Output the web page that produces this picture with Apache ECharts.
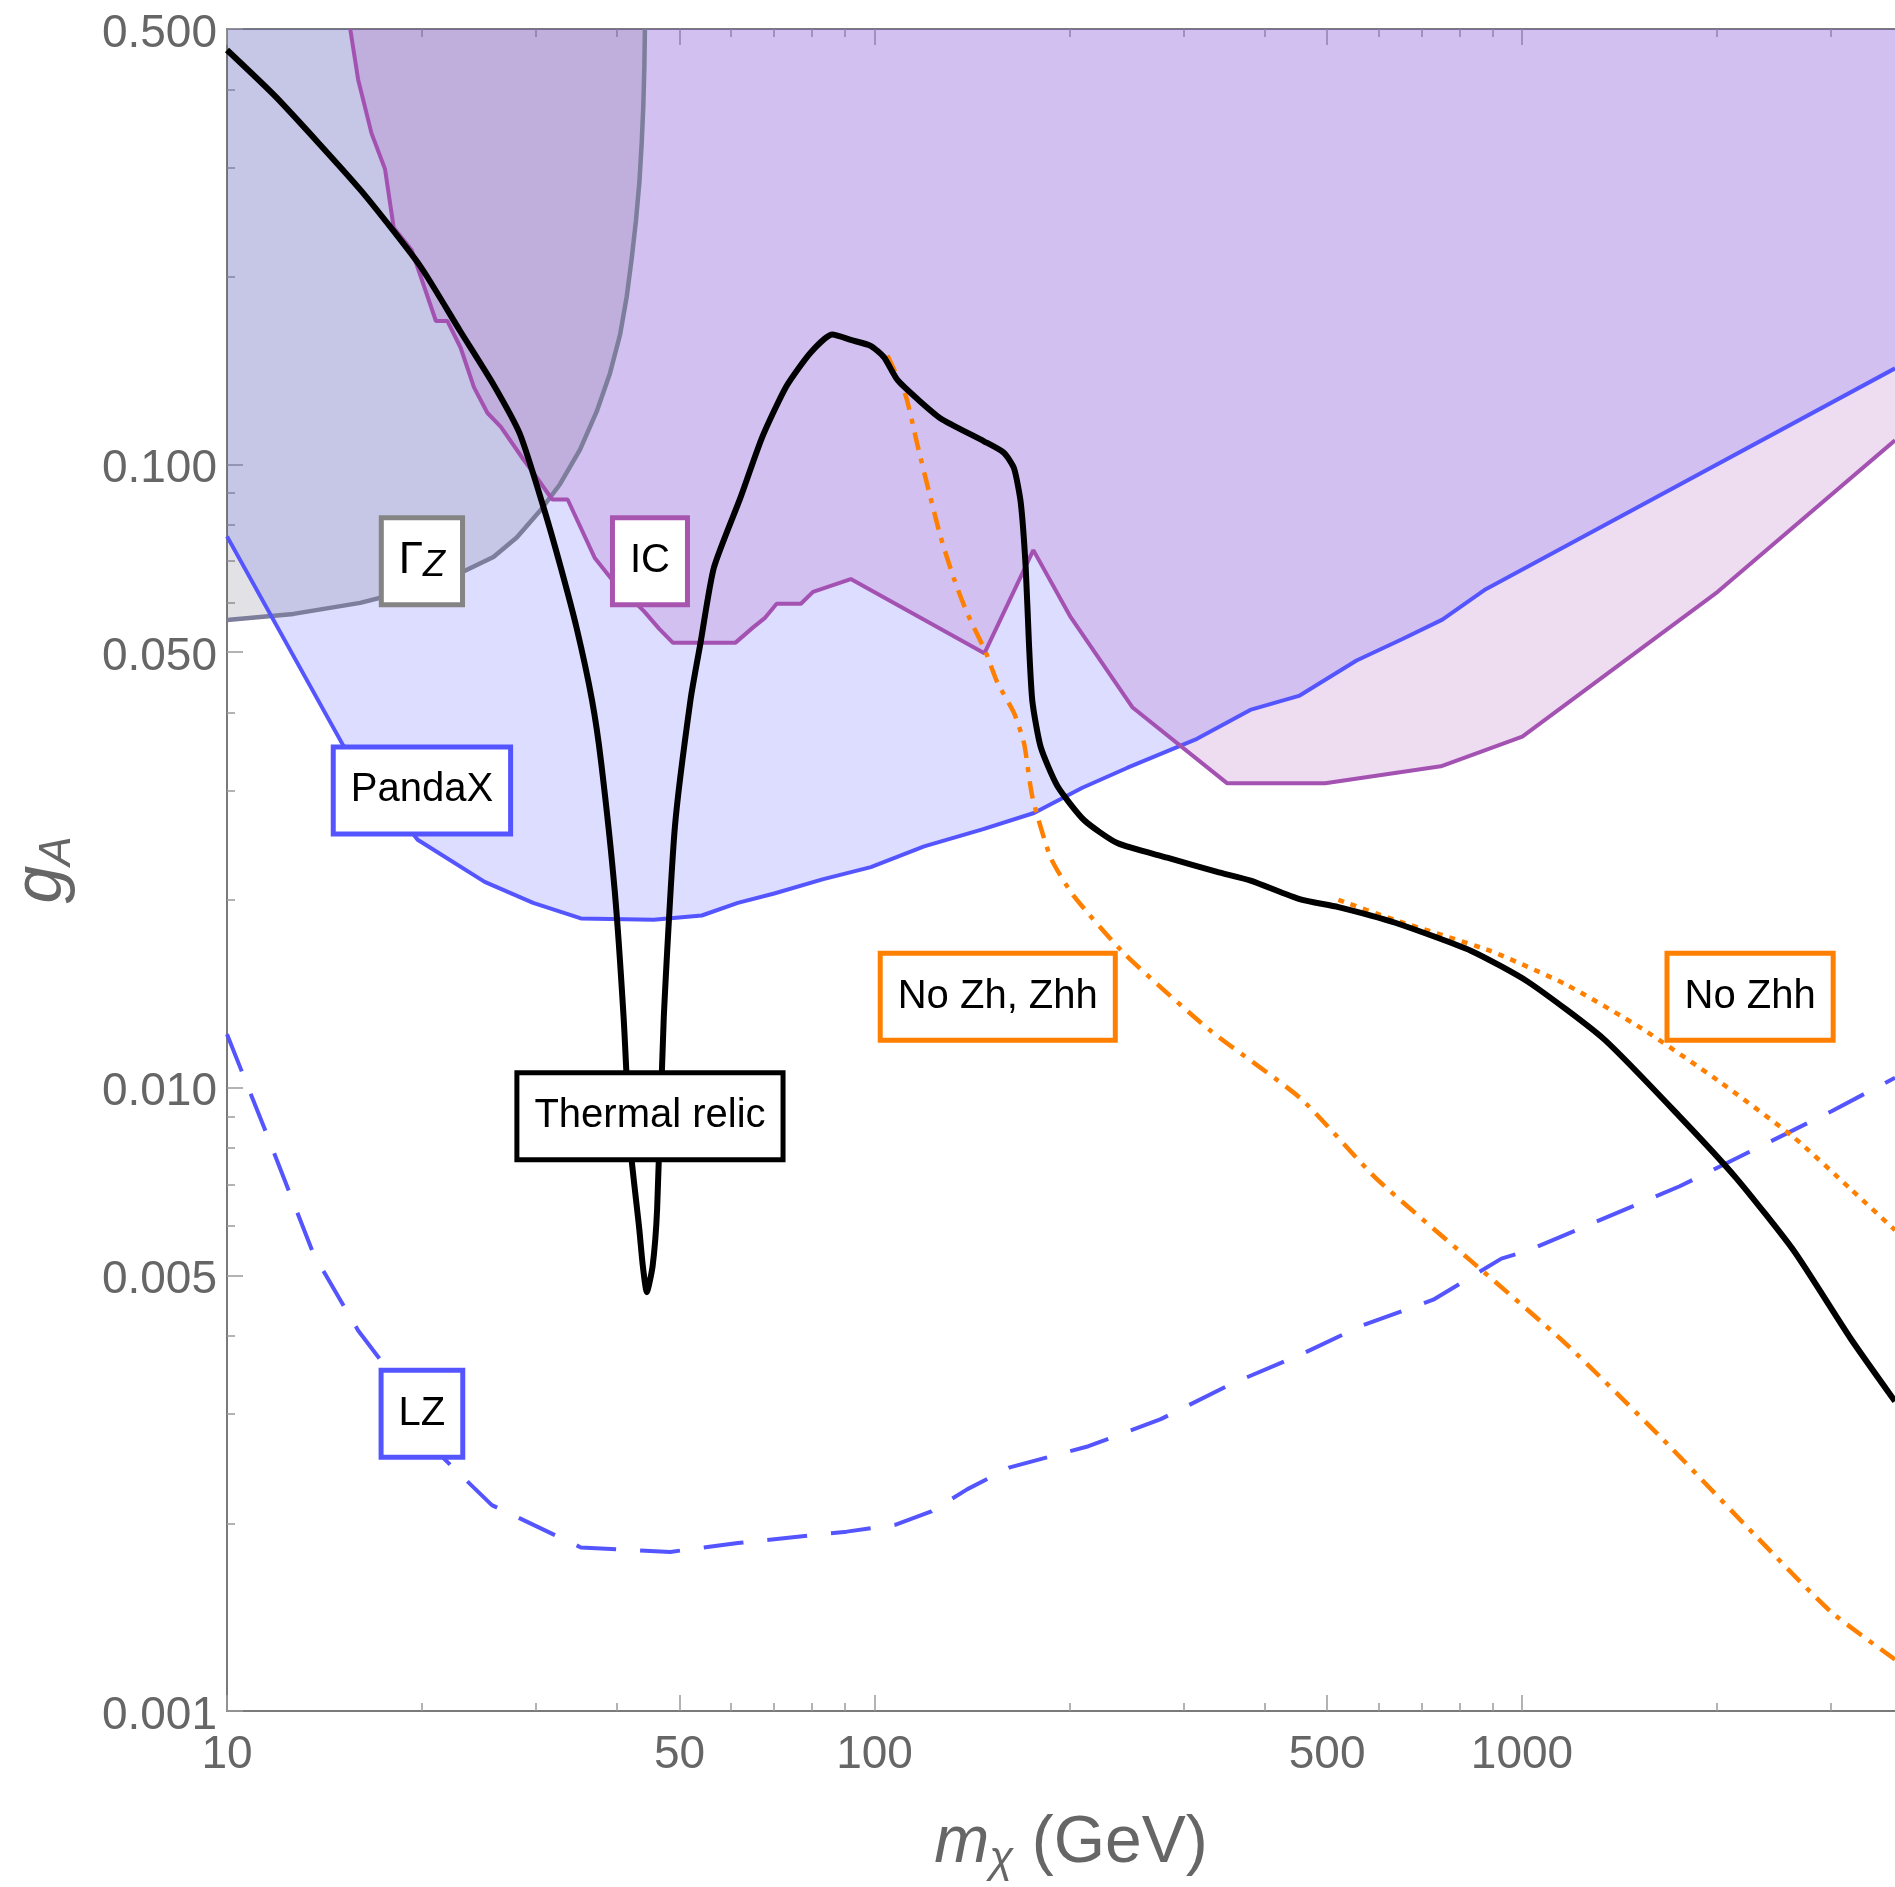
<!DOCTYPE html>
<html><head><meta charset="utf-8">
<script src="https://cdn.jsdelivr.net/npm/echarts@6/dist/echarts.min.js"></script>
<style>html,body{margin:0;padding:0;background:#fff}#c{width:1895px;height:1887px}</style>
</head><body><div id="c"></div>
<script>
// ---- axis ticks ----
const xMajorTicks = [10, 50, 100, 500, 1000];
const xMinorTicks = [20, 30, 40, 60, 70, 80, 90, 200, 300, 400, 600, 700, 800, 900, 2000, 3000];
const yMajorTicks = [0.001, 0.005, 0.01, 0.05, 0.1, 0.5];
const yMinorTicks = [0.002, 0.003, 0.004, 0.006, 0.007, 0.008, 0.009, 0.02, 0.03, 0.04, 0.06, 0.07, 0.08, 0.09, 0.2, 0.3, 0.4];
const xMin = 10, xMax = 3767, yMin = 0.001, yMax = 0.5;

// ---- Gamma_Z bound ----
const gammaZ_x = [10, 12.67, 16.06, 19.9, 23.05, 25.79, 28.02, 30.44, 32.68, 35.09, 37.24, 39.04, 40.45, 41.43, 42.17, 42.82, 43.34, 43.69, 43.95, 44.11, 44.2];
const gammaZ_y = [0.0563, 0.0576, 0.0600, 0.0635, 0.0672, 0.0711, 0.0764, 0.0843, 0.0930, 0.1057, 0.1217, 0.1402, 0.1614, 0.1860, 0.2141, 0.2467, 0.284, 0.3272, 0.3768, 0.434, 0.5];

// ---- PandaX bound ----
const pandaX_x = [10, 15.1, 19.7, 25.0, 29.7, 35.2, 45.6, 54.1, 61.5, 70.0, 83.1, 98.7, 119.3, 147.2, 176.3, 209.4, 245.4, 314.8, 380.4, 453.6, 555.2, 653.6, 753.2, 879, 3767];
const pandaX_y = [0.0767, 0.0355, 0.0250, 0.0214, 0.0198, 0.0187, 0.0186, 0.0189, 0.0198, 0.0205, 0.0216, 0.0226, 0.0244, 0.0260, 0.0276, 0.0303, 0.0326, 0.0363, 0.0404, 0.0426, 0.0485, 0.0525, 0.0564, 0.0631, 0.1427];

// ---- IceCube bound ----
const ic_x = [15.5, 15.94, 16.72, 17.54, 18.09, 19.28, 21.02, 21.89, 22.95, 24.07, 25.25, 26.48, 28.68, 30.08, 31.78, 33.58, 36.96, 39.36, 44.04, 46.51, 48.8, 61.0, 64.8, 67.66, 70.6, 76.97, 80.35, 91.9, 147.8, 175.9, 200.9, 250.1, 350.6, 496.5, 749.2, 1001, 2005, 3767];
const ic_y = [0.5, 0.415, 0.34, 0.298, 0.24, 0.221, 0.17, 0.17, 0.154, 0.133, 0.121, 0.115, 0.102, 0.0954, 0.0879, 0.0879, 0.0709, 0.0653, 0.0582, 0.0545, 0.0518, 0.0518, 0.0547, 0.0567, 0.0598, 0.0598, 0.0625, 0.0655, 0.0498, 0.0729, 0.0569, 0.0408, 0.0308, 0.0308, 0.0328, 0.0366, 0.0625, 0.1094];

// ---- LZ projection ----
const lz_x = [10, 11.6, 13.6, 15.94, 19.29, 21.55, 25.65, 35.2, 48.37, 61.5, 90.6, 107.6, 122.4, 139.2, 161.8, 214, 276.8, 358.3, 454.8, 564.6, 729.3, 929.3, 1021.6, 1752, 3006, 3767];
const lz_y = [0.01219, 0.00827, 0.00541, 0.00408, 0.00314, 0.00255, 0.00214, 0.00183, 0.0018, 0.00186, 0.00194, 0.00199, 0.00209, 0.00227, 0.00246, 0.00266, 0.00294, 0.00336, 0.00373, 0.00415, 0.00457, 0.00532, 0.00548, 0.00695, 0.00917, 0.01038];

// ---- Thermal relic ----
const relic_x = [10, 11.94, 16.06, 19.88, 22.91, 25.79, 28.35, 30.81, 32.68, 34.68, 36.6, 37.84, 39.70, 40.98, 41.96, 43.31, 43.87, 44.5, 45.43, 46.16, 47.26, 49.17, 51.99, 53.87, 56.48, 62.08, 67.08, 73.07, 79.65, 86.05, 91.9, 98.63, 103.4, 108.5, 116.5, 126.5, 147.6, 158.4, 164.2, 168.2, 171.2, 173.2, 175.3, 180.6, 191.6, 210.6, 237.1, 283.2, 338.2, 380.9, 454.8, 520.5, 637.1, 834.8, 1021.6, 1338, 1752, 2145, 2627, 3217, 3767];
const relic_y = [0.4627, 0.3876, 0.2762, 0.2082, 0.1638, 0.1344, 0.1118, 0.0855, 0.0691, 0.0546, 0.0420, 0.0332, 0.0207, 0.01294, 0.00807, 0.00595, 0.00518, 0.0047, 0.00518, 0.00639, 0.01294, 0.0262, 0.042, 0.0518, 0.0683, 0.0885, 0.1107, 0.1335, 0.1512, 0.1617, 0.1585, 0.1551, 0.1487, 0.1367, 0.1274, 0.1186, 0.109, 0.1045, 0.0987, 0.0869, 0.0683, 0.0515, 0.0417, 0.0352, 0.0305, 0.0269, 0.0247, 0.0234, 0.0222, 0.0215, 0.02006, 0.0195, 0.0184, 0.01658, 0.01479, 0.01197, 0.00899, 0.00715, 0.00548, 0.00396, 0.00314];

// ---- No Zh, Zhh ----
const noZhZhh_x = [104.7, 111.7, 116.5, 121.3, 126.5, 132.7, 139.1, 148.5, 154.8, 164.2, 170.2, 175.3, 187.1, 203.2, 243.4, 328.6, 454.8, 595.7, 834.8, 1170, 1638, 2295, 3006, 3767];
const noZhZhh_y = [0.1497, 0.1291, 0.1075, 0.0907, 0.0766, 0.0655, 0.0577, 0.05, 0.0447, 0.03996, 0.0357, 0.0293, 0.0234, 0.0203, 0.0164, 0.0124, 0.00962, 0.00715, 0.00527, 0.00388, 0.00275, 0.00191, 0.00144, 0.00121];

// ---- No Zhh ----
const noZhh_x = [520.5, 637.1, 893.2, 1170, 1532, 2005, 2627, 3217, 3767];
const noZhh_y = [0.02003, 0.01858, 0.01658, 0.01464, 0.01244, 0.01028, 0.00833, 0.00688, 0.00591];

// ---- annotation boxes (text and data-space anchor) ----
const annoText = ['{g|Γ}{z|Z}', 'IC', 'PandaX', 'Thermal relic', 'No Zh, Zhh', 'No Zhh', 'LZ'];
const annoX = [20, 45, 20, 45, 155, 2250, 20];
const annoY = [0.07, 0.07, 0.03, 0.009, 0.014, 0.014, 0.003];

// ---- build ----
const FONT = "'Liberation Sans', Arial, Helvetica, sans-serif";
const annoColor = ['#848484', '#a855b0', '#5555ff', '#000000', '#ff8000', '#ff8000', '#5555ff'];
const pairs = (xs, ys) => xs.map((x, i) => [x, ys[i]]);

function xAx(pos, ticks, len, line, labels) {
  const a = {
    type: 'log', logBase: 10, min: xMin, max: xMax, position: pos,
    axisLine: {show: line, onZero: false, lineStyle: {color: '#7a7a7a', width: 2}},
    axisTick: {show: true, inside: true, length: len, customValues: ticks, lineStyle: {color: '#9a9a9a', width: 1.5}},
    axisLabel: {show: false},
    splitLine: {show: false}, minorTick: {show: false}, minorSplitLine: {show: false}
  };
  if (labels) {
    a.axisLabel = {show: true, customValues: ticks, formatter: v => String(Math.round(v)),
      fontSize: 46, color: '#666', margin: 21, fontFamily: FONT};
    a.name = '{m|m}{chi|χ}{t| (GeV)}';
    a.nameLocation = 'middle';
    a.nameGap = 95;
    a.nameTextStyle = {color: '#666', fontFamily: FONT, padding: [0, 0, 0, 20],
      rich: {
        m: {fontSize: 66, fontStyle: 'italic', lineHeight: 76, color: '#666', fontFamily: FONT},
        chi: {fontSize: 44, fontStyle: 'italic', lineHeight: 46, verticalAlign: 'bottom', color: '#666', fontFamily: FONT},
        t: {fontSize: 66, lineHeight: 76, color: '#666', fontFamily: FONT}
      }};
  }
  return a;
}
function yAx(pos, ticks, len, line, labels) {
  const a = {
    type: 'log', logBase: 10, min: yMin, max: yMax, position: pos,
    axisLine: {show: line, onZero: false, lineStyle: {color: '#7a7a7a', width: 2}},
    axisTick: {show: true, inside: true, length: len, customValues: ticks, lineStyle: {color: '#9a9a9a', width: 1.5}},
    axisLabel: {show: false},
    splitLine: {show: false}, minorTick: {show: false}, minorSplitLine: {show: false}
  };
  if (labels) {
    a.axisLabel = {show: true, customValues: ticks, formatter: v => Number(v).toFixed(3),
      fontSize: 46, color: '#666', margin: 10, fontFamily: FONT, verticalAlign: 'top', lineHeight: 10};
    a.name = '{g|g}{a|A}';
    a.nameLocation = 'middle';
    a.nameRotate = 90;
    a.nameGap = 147;
    a.nameTextStyle = {color: '#666', fontFamily: FONT,
      rich: {
        g: {fontSize: 68, fontStyle: 'italic', lineHeight: 76, color: '#666', fontFamily: FONT},
        a: {fontSize: 44, fontStyle: 'italic', lineHeight: 50, verticalAlign: 'bottom', color: '#666', fontFamily: FONT}
      }};
  }
  return a;
}

const lineBase = {type: 'line', showSymbol: false, symbol: 'none', silent: true, animation: false, clip: true};

const option = {
  animation: false,
  backgroundColor: '#ffffff',
  grid: {left: 226, top: 29, right: 0, bottom: 175, containLabel: false},
  xAxis: [
    xAx('bottom', xMajorTicks, 16, true, true),
    xAx('bottom', xMinorTicks, 8, false, false),
    xAx('top', xMajorTicks, 16, true, false),
    xAx('top', xMinorTicks, 8, false, false)
  ],
  yAxis: [
    yAx('left', yMajorTicks, 16, true, true),
    yAx('left', yMinorTicks, 8, false, false)
  ],
  series: [
    // fills
    Object.assign({}, lineBase, {name: 'PandaX region', data: pairs(pandaX_x, pandaX_y), z: 1,
      lineStyle: {width: 0}, areaStyle: {origin: 'end', color: 'rgba(85,85,255,0.2)', opacity: 1}}),
    Object.assign({}, lineBase, {name: 'GammaZ region', data: pairs(gammaZ_x, gammaZ_y), z: 2,
      lineStyle: {width: 0}, areaStyle: {origin: 'end', color: 'rgba(95,95,115,0.18)', opacity: 1}}),
    Object.assign({}, lineBase, {name: 'IC region', data: pairs(ic_x, ic_y), z: 3,
      lineStyle: {width: 0}, areaStyle: {origin: 'end', color: 'rgba(168,85,180,0.2)', opacity: 1}}),
    // lines
    Object.assign({}, lineBase, {name: 'GammaZ', data: pairs(gammaZ_x, gammaZ_y), z: 4,
      lineStyle: {color: '#7d7d9c', width: 4.5, join: 'round'}}),
    Object.assign({}, lineBase, {name: 'PandaX', data: pairs(pandaX_x, pandaX_y), z: 4,
      lineStyle: {color: '#5555ff', width: 4}}),
    Object.assign({}, lineBase, {name: 'IC', data: pairs(ic_x, ic_y), z: 4,
      lineStyle: {color: '#a452b2', width: 4}}),
    Object.assign({}, lineBase, {name: 'LZ', data: pairs(lz_x, lz_y), z: 5,
      lineStyle: {color: '#5555ff', width: 4, type: [40, 24], cap: 'butt'}}),
    Object.assign({}, lineBase, {name: 'No Zh, Zhh', data: pairs(noZhZhh_x, noZhZhh_y), z: 5, smooth: 0.2,
      lineStyle: {color: '#ff8000', width: 4.5, type: [18, 9, 5, 9], cap: 'butt'}}),
    Object.assign({}, lineBase, {name: 'No Zhh', data: pairs(noZhh_x, noZhh_y), z: 5, smooth: 0.2,
      lineStyle: {color: '#ff8000', width: 4.5, type: [6, 7], cap: 'butt'}}),
    Object.assign({}, lineBase, {name: 'Thermal relic', data: pairs(relic_x, relic_y), z: 6, smooth: 0.2,
      lineStyle: {color: '#000000', width: 6, join: 'round'}}),
    // annotation boxes
    {
      type: 'scatter', silent: true, animation: false, z: 20, symbolSize: 1,
      itemStyle: {color: 'rgba(0,0,0,0)', opacity: 1},
      data: annoText.map((t, i) => ({
        value: [annoX[i], annoY[i]],
        label: {formatter: t, borderColor: annoColor[i]}
      })),
      label: {
        show: true, position: 'inside', color: '#000', fontSize: 40, lineHeight: 46, fontFamily: FONT,
        backgroundColor: '#ffffff', borderWidth: 5, padding: [18, 15], opacity: 1,
        rich: {
          g: {fontSize: 44, lineHeight: 46, color: '#000', fontFamily: FONT},
          z: {fontSize: 36, fontStyle: 'italic', lineHeight: 34, verticalAlign: 'bottom', color: '#000', fontFamily: FONT}
        }
      }
    }
  ]
};

const chart = echarts.init(document.getElementById('c'), null, {renderer: 'canvas'});
chart.setOption(option);
</script>
</body></html>
